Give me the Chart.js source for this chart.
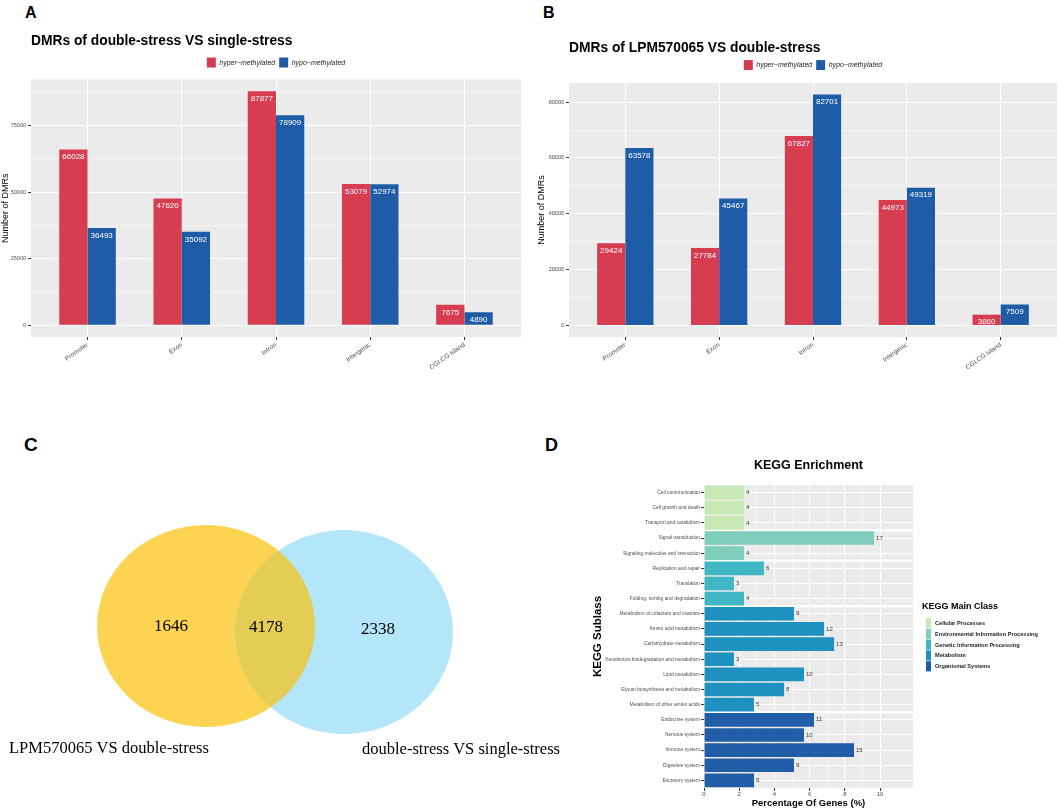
<!DOCTYPE html>
<html><head><meta charset="utf-8">
<script src="https://cdn.jsdelivr.net/npm/chart.js@4/dist/chart.umd.min.js"></script>
<style>
html,body{margin:0;padding:0;background:#fff;}
body{width:1059px;height:811px;position:relative;overflow:hidden;font-family:"Liberation Sans",Arial,sans-serif;}
canvas{position:absolute;}
.lab{position:absolute;font-weight:bold;line-height:1;color:#000;font-family:"Liberation Sans",Arial,sans-serif;}
</style></head><body>
<div class="lab" style="left:25px;top:5px;font-size:16px">A</div>
<div class="lab" style="left:543px;top:5px;font-size:16px">B</div>
<div class="lab" style="left:24px;top:435px;font-size:19px">C</div>
<div class="lab" style="left:545px;top:436px;font-size:18px">D</div>
<canvas id="cA" width="530" height="360" style="left:0;top:20px"></canvas>
<canvas id="cB" width="529" height="360" style="left:530px;top:20px"></canvas>
<canvas id="cC" width="575" height="421" style="left:0;top:390px"></canvas>
<canvas id="cD" width="471" height="361" style="left:588px;top:450px"></canvas>
<script>
// ---------- data ----------
const regions = ['Promoter', 'Exon', 'Intron', 'Intergenic', 'CGI,CG island'];
const hyperA = [66028, 47620, 87877, 53079, 7675];
const hypoA  = [36493, 35092, 78909, 52974, 4890];
const hyperB = [29424, 27784, 67827, 44973, 3860];
const hypoB  = [63578, 45467, 82701, 49319, 7509];
const yTicksA = [0, 25000, 50000, 75000];
const yTicksB = [0, 20000, 40000, 60000, 80000];

const vennSets = ['LPM570065 VS double-stress', 'double-stress VS single-stress'];
const vennCounts = [1646, 4178, 2338];

const keggSub = ['Cell communication','Cell growth and death','Transport and catabolism',
  'Signal transduction','Signaling molecules and interaction',
  'Replication and repair','Translation','Folding, sorting and degradation',
  'Metabolism of cofactors and vitamins','Amino acid metabolism','Carbohydrate metabolism',
  'Xenobiotics biodegradation and metabolism','Lipid metabolism','Glycan biosynthesis and metabolism',
  'Metabolism of other amino acids',
  'Endocrine system','Nervous system','Immune system','Digestive system','Excretory system'];
const keggPct = [2.27, 2.27, 2.27, 9.66, 2.27, 3.41, 1.70, 2.27, 5.11, 6.82, 7.39, 1.70, 5.68, 4.55, 2.84, 6.25, 5.68, 8.52, 5.11, 2.84];
const keggCount = [4, 4, 4, 17, 4, 6, 3, 4, 9, 12, 13, 3, 10, 8, 5, 11, 10, 15, 9, 5];
const keggClass = [0, 0, 0, 1, 1, 2, 2, 2, 3, 3, 3, 3, 3, 3, 3, 4, 4, 4, 4, 4];
const keggClassNames = ['Cellular Processes','Environmental Information Processing','Genetic Information Processing','Metabolism','Organismal Systems'];
const keggXTicks = [0, 2, 4, 6, 8, 10];

// ---------- styles ----------
const RED = '#D63D51', BLUE = '#1F5CA8';
const keggColors = ['#C7E9B4', '#7FCDBB', '#41B6C4', '#1D91C0', '#225EA8'];
const vennColors = ['#FDD452', '#B3E6F8', '#E3CD55'];
const PANEL = '#EBEBEB', TICKTXT = '#4D4D4D', TICKMARK = '#333333';
Chart.defaults.font.family = '"Liberation Sans", Arial, Helvetica, sans-serif';

const panelBg = {
  id: 'panelBg',
  beforeDraw(chart) {
    const a = chart.chartArea, ctx = chart.ctx;
    ctx.save(); ctx.fillStyle = PANEL;
    ctx.fillRect(a.left, a.top, a.right - a.left, a.bottom - a.top);
    ctx.restore();
  }
};
const barValues = {
  id: 'barValues',
  afterDatasetsDraw(chart) {
    const ctx = chart.ctx;
    ctx.save();
    ctx.fillStyle = '#FFFFFF'; ctx.font = '8px "Liberation Sans", Arial, sans-serif';
    ctx.textAlign = 'center'; ctx.textBaseline = 'middle';
    chart.data.datasets.forEach((ds, di) => {
      chart.getDatasetMeta(di).data.forEach((bar, i) => {
        ctx.fillText(String(ds.data[i].y), bar.x, bar.y + 7.5);
      });
    });
    ctx.restore();
  }
};

function dmrChart(id, titleText, hyper, hypo, majorTicks, titlePad, spacer, yAxisW, yTitlePad, padRight) {
  const maxV = Math.max(...hyper, ...hypo);
  const lo = -0.05 * maxV, hi = 1.05 * maxV;
  const minorStep = (majorTicks[1] - majorTicks[0]) / 2;
  const isMajor = v => majorTicks.includes(v);
  return new Chart(document.getElementById(id), {
    type: 'bar',
    data: {
      datasets: [
        { label: 'hyper\u2212methylated', data: regions.map((r, i) => ({ x: i + 1, y: hyper[i] })), backgroundColor: RED, borderWidth: 0 },
        { label: 'hypo\u2212methylated', data: regions.map((r, i) => ({ x: i + 1, y: hypo[i] })), backgroundColor: BLUE, borderWidth: 0 }
      ]
    },
    options: {
      responsive: false, animation: false,
      datasets: { bar: { categoryPercentage: 0.6, barPercentage: 1 } },
      layout: { padding: { right: padRight } },
      plugins: {
        title: { display: true, text: titleText, align: 'start', fullSize: false, color: '#000',
          font: { size: 13.8, weight: 'bold' }, padding: titlePad },
        legend: { display: true, position: 'top', fullSize: false,
          labels: { boxWidth: 9, boxHeight: 10, padding: 4, color: '#222', font: { size: 7, style: 'italic' } } },
        tooltip: { enabled: false }
      },
      scales: {
        x: {
          type: 'linear', min: 0.4, max: 5.6, offset: false, bounds: 'data',
          afterBuildTicks: s => { s.ticks = regions.map((r, i) => ({ value: i + 1 })); },
          ticks: { callback: v => regions[Math.round(v) - 1], minRotation: 35, maxRotation: 35, autoSkip: false,
            font: { size: 6.5 }, color: TICKTXT, padding: 1 },
          grid: { color: '#FFFFFF', lineWidth: 1, tickColor: TICKMARK, tickLength: 3, offset: false },
          border: { display: false },
          afterFit: s => { s.height = 43; }
        },
        xTop: {
          type: 'linear', position: 'top', display: true,
          ticks: { display: false }, grid: { display: false, drawTicks: false }, border: { display: false },
          afterFit: s => { s.height = spacer; }
        },
        y: {
          min: lo, max: hi, bounds: 'data',
          afterBuildTicks: s => {
            const t = [];
            for (let v = 0; v <= hi; v += minorStep) t.push({ value: v });
            s.ticks = t;
          },
          ticks: { callback: v => isMajor(v) ? String(v) : '',
            font: { size: 5.5 }, color: TICKTXT, padding: 2, autoSkip: false },
          grid: { color: '#FFFFFF', lineWidth: c => isMajor(c.tick.value) ? 1 : 0.5,
            tickColor: c => isMajor(c.tick.value) ? TICKMARK : 'rgba(0,0,0,0)', tickLength: 3 },
          border: { display: false },
          title: { display: true, text: 'Number of DMRs', color: '#000', font: { size: 9 }, padding: { top: yTitlePad, bottom: 0 } },
          afterFit: s => { s.width = yAxisW; }
        }
      }
    },
    plugins: [panelBg, barValues]
  });
}

dmrChart('cA', 'DMRs of double-stress VS single-stress', hyperA, hypoA, yTicksA, { top: 13, bottom: 4 }, 2, 31, 0, 9);
dmrChart('cB', 'DMRs of LPM570065 VS double-stress', hyperB, hypoB, yTicksB, { top: 19.5, bottom: 0 }, 3, 39, 6.5, 2);

// ---------- Venn (C) ----------
const VENN = {
  circles: [ { cx: 206, cy: 236, rx: 109, ry: 101 }, { cx: 344, cy: 242, rx: 109, ry: 102 } ],
  countPos: [ [171, 237], [266, 238], [378, 240] ],
  setPos: [ [9, 359], [362, 360] ]
};
const vennPlugin = {
  id: 'venn',
  afterDraw(chart) {
    const ctx = chart.ctx, sx = chart.scales.x, sy = chart.scales.y;
    const P = (vx, vy) => [sx.getPixelForValue(vx), sy.getPixelForValue(vy)];
    const ell = g => {
      const [cx, cy] = P(g.cx, g.cy);
      const rx = Math.abs(sx.getPixelForValue(g.cx + g.rx) - cx);
      const ry = Math.abs(sy.getPixelForValue(g.cy + g.ry) - cy);
      ctx.beginPath(); ctx.ellipse(cx, cy, rx, ry, 0, 0, Math.PI * 2);
    };
    ctx.save();
    ell(VENN.circles[0]); ctx.fillStyle = vennColors[0]; ctx.fill();
    ell(VENN.circles[1]); ctx.fillStyle = vennColors[1]; ctx.fill();
    ctx.save(); ell(VENN.circles[0]); ctx.clip(); ell(VENN.circles[1]); ctx.fillStyle = vennColors[2]; ctx.fill(); ctx.restore();
    ctx.fillStyle = '#000'; ctx.textBaseline = 'middle';
    ctx.font = '17px "Liberation Serif", "Times New Roman", serif'; ctx.textAlign = 'center';
    vennCounts.forEach((n, i) => { const [px, py] = P(...VENN.countPos[i]); ctx.fillText(String(n), px, py); });
    ctx.font = '16.5px "Liberation Serif", "Times New Roman", serif'; ctx.textAlign = 'left';
    vennSets.forEach((s, i) => { const [px, py] = P(...VENN.setPos[i]); ctx.fillText(s, px, py); });
    ctx.restore();
  }
};
new Chart(document.getElementById('cC'), {
  type: 'scatter',
  data: { datasets: [{ data: [] }] },
  options: {
    responsive: false, animation: false, layout: { padding: 0 },
    plugins: { legend: { display: false }, tooltip: { enabled: false } },
    scales: { x: { display: false, min: 0, max: 575 }, y: { display: false, min: 0, max: 421, reverse: true } }
  },
  plugins: [vennPlugin]
});

// ---------- KEGG (D) ----------
const facetSep = {
  id: 'facetSep',
  beforeDatasetsDraw(chart) {
    const ctx = chart.ctx, a = chart.chartArea, y = chart.scales.y;
    ctx.save(); ctx.fillStyle = '#FFFFFF';
    for (let i = 0; i < keggClass.length - 1; i++) {
      if (keggClass[i] !== keggClass[i + 1]) {
        const yy = (y.getPixelForValue(i) + y.getPixelForValue(i + 1)) / 2;
        ctx.fillRect(a.left, yy - 1.2, a.right - a.left, 2.4);
      }
    }
    ctx.restore();
  }
};
const countLabels = {
  id: 'countLabels',
  afterDatasetsDraw(chart) {
    const ctx = chart.ctx;
    ctx.save(); ctx.fillStyle = '#333'; ctx.font = '6px "Liberation Sans", Arial, sans-serif';
    ctx.textAlign = 'left'; ctx.textBaseline = 'middle';
    chart.getDatasetMeta(0).data.forEach((bar, i) => ctx.fillText(String(keggCount[i]), bar.x + 2, bar.y));
    ctx.restore();
  }
};
// legend layout (offsets from the panel's right / top edge)
const KLEG = { titleDx: 9, titleDy: 122, keyDx: 13, keyDy: 133, keyW: 5, keyH: 10.8, textDx: 22 };
const keggLegend = {
  id: 'keggLegend',
  afterDraw(chart) {
    const ctx = chart.ctx, a = chart.chartArea;
    ctx.save();
    ctx.fillStyle = '#000'; ctx.textAlign = 'left'; ctx.textBaseline = 'middle';
    ctx.font = 'bold 9px "Liberation Sans", Arial, sans-serif';
    ctx.fillText('KEGG Main Class', a.right + KLEG.titleDx, a.top + KLEG.titleDy);
    ctx.font = 'bold 5.6px "Liberation Sans", Arial, sans-serif';
    keggClassNames.forEach((n, i) => {
      const y0 = a.top + KLEG.keyDy + i * KLEG.keyH;
      ctx.fillStyle = keggColors[i];
      ctx.fillRect(a.right + KLEG.keyDx, y0, KLEG.keyW, KLEG.keyH - 0.6);
      ctx.fillStyle = '#222';
      ctx.fillText(n, a.right + KLEG.textDx, y0 + KLEG.keyH / 2);
    });
    ctx.restore();
  }
};
new Chart(document.getElementById('cD'), {
  type: 'bar',
  data: { labels: keggSub, datasets: [{ data: keggPct, backgroundColor: keggClass.map(c => keggColors[c]),
    borderWidth: 0, categoryPercentage: 0.9, barPercentage: 1 }] },
  options: {
    indexAxis: 'y', responsive: false, animation: false,
    layout: { padding: { right: 146 } },
    plugins: {
      title: { display: true, text: 'KEGG Enrichment', fullSize: false, color: '#000',
        font: { size: 12.5, weight: 'bold' }, padding: { top: 8.5, bottom: 11.5 } },
      legend: { display: false },
      tooltip: { enabled: false }
    },
    scales: {
      x: {
        min: 0, max: 11.87,
        ticks: { stepSize: 1, callback: v => keggXTicks.includes(v) ? String(v) : '', font: { size: 6 },
          color: TICKTXT, padding: 0, maxRotation: 0, autoSkip: false },
        grid: { color: '#FFFFFF', lineWidth: c => keggXTicks.includes(c.tick.value) ? 1 : 0.5,
          tickColor: c => keggXTicks.includes(c.tick.value) ? TICKMARK : 'rgba(0,0,0,0)', tickLength: 3 },
        border: { display: false },
        title: { display: true, text: 'Percentage Of Genes (%)', color: '#000', font: { size: 9.5, weight: 'bold' },
          padding: { top: 0, bottom: 2 } },
        afterFit: s => { s.height = 23; }
      },
      y: {
        ticks: { font: { size: 4.9 }, color: TICKTXT, padding: 1, autoSkip: false },
        grid: { color: '#FFFFFF', lineWidth: 1, offset: false, tickColor: TICKMARK, tickLength: 3 },
        border: { display: false },
        title: { display: true, text: 'KEGG Sublass', color: '#000', font: { size: 11.5, weight: 'bold' },
          padding: { top: 3, bottom: 0 } },
        afterFit: s => { s.width = 116; }
      }
    }
  },
  plugins: [panelBg, facetSep, countLabels, keggLegend]
});
</script>
</body></html>
